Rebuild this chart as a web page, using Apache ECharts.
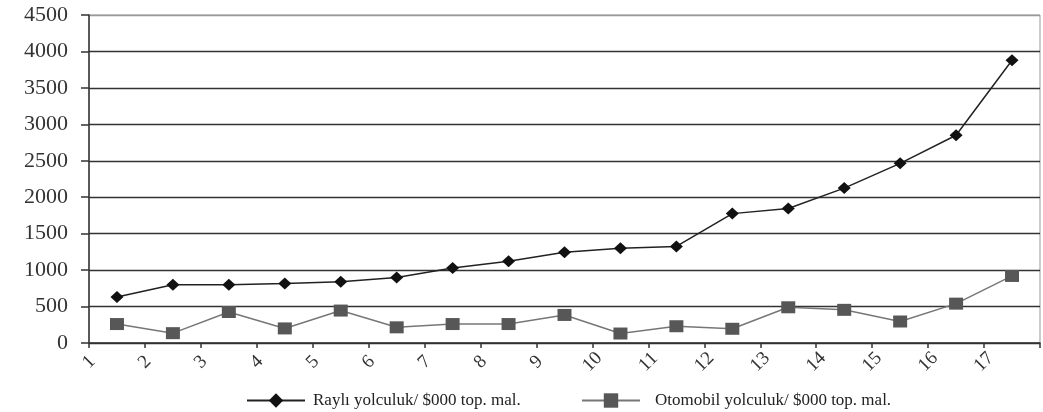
<!DOCTYPE html>
<html>
<head>
<meta charset="utf-8">
<script src="https://cdn.jsdelivr.net/npm/echarts@6/dist/echarts.min.js"></script>
<style>
html,body{margin:0;padding:0;background:#fff;}
#c{width:1043px;height:412px;}
</style>
</head>
<body>
<div id="c"></div>
<script>
const categories = ['1','2','3','4','5','6','7','8','9','10','11','12','13','14','15','16','17'];
const rayliValues = [630, 800, 800, 815, 840, 900, 1030, 1120, 1245, 1300, 1325, 1775, 1845, 2125, 2465, 2850, 3880];
const otomobilValues = [260, 135, 425, 200, 445, 215, 260, 260, 385, 130, 230, 195, 490, 455, 295, 540, 920];
const yTicks = [0, 500, 1000, 1500, 2000, 2500, 3000, 3500, 4000, 4500];
const seriesNames = ['Raylı yolculuk/ $000 top. mal.', 'Otomobil yolculuk/ $000 top. mal.'];

const toPoints = vals => vals.map((v, i) => [i + 0.5, v]);
const font = 'Liberation Serif';

const chart = echarts.init(document.getElementById('c'), null, {renderer: 'canvas'});
chart.setOption({
  animation: false,
  backgroundColor: '#fff',
  grid: {left: 89, right: 3, top: 15, bottom: 69, show: true, borderColor: '#999', borderWidth: 1},
  xAxis: {
    type: 'value', min: 0, max: categories.length, interval: 1,
    axisLine: {show: true, lineStyle: {color: '#333', width: 1.5}},
    axisTick: {show: true, inside: false, length: 5, lineStyle: {color: '#333', width: 1.5}},
    splitLine: {show: false},
    axisLabel: {
      rotate: 45, align: 'center', verticalAlign: 'middle', margin: 19,
      fontFamily: font, fontSize: 19, color: '#333',
      formatter: v => (v < categories.length ? categories[v] : '')
    }
  },
  yAxis: {
    type: 'value', min: yTicks[0], max: yTicks[yTicks.length - 1], interval: yTicks[1] - yTicks[0],
    axisLine: {show: true, lineStyle: {color: '#333', width: 1.5}},
    axisTick: {show: true, inside: false, length: 8, lineStyle: {color: '#333', width: 1.5}},
    splitLine: {show: true, lineStyle: {color: ['#333','#333','#333','#333','#333','#333','#333','#333','#333','#999'], width: 1.3}},
    axisLabel: {margin: 21, fontFamily: font, fontSize: 22, color: '#333', formatter: v => String(v)}
  },
  legend: [
    {
      data: [seriesNames[0]], left: 241, top: 387, itemWidth: 58, itemHeight: 18, itemGap: 10,
      textStyle: {fontFamily: font, fontSize: 17, color: '#222', padding: [0,0,0,3]}
    },
    {
      data: [seriesNames[1]], left: 576, top: 387, itemWidth: 58, itemHeight: 18, itemGap: 10,
      textStyle: {fontFamily: font, fontSize: 17, color: '#222', padding: [0,0,0,10]}
    }
  ],
  series: [
    {
      name: seriesNames[0], type: 'line', data: toPoints(rayliValues),
      symbol: 'diamond', symbolSize: [13, 12],
      lineStyle: {color: '#222', width: 1.5},
      itemStyle: {color: '#111', borderWidth: 0},
      z: 3
    },
    {
      name: seriesNames[1], type: 'line', data: toPoints(otomobilValues),
      symbol: 'rect', symbolSize: [14, 12],
      lineStyle: {color: '#777', width: 1.5},
      itemStyle: {color: '#575757', borderWidth: 0},
      z: 2
    }
  ]
});
</script>
</body>
</html>
